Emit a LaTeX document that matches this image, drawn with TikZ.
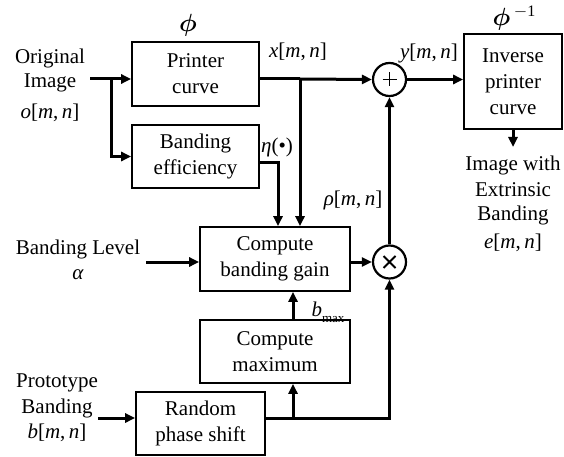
\documentclass[tikz,border=0pt]{standalone}
\usepackage{fontspec}
\setmainfont{Liberation Serif}
\usetikzlibrary{arrows.meta}
\newcommand{\MN}{[\textit{m},\,\textit{n}]}
\newcommand{\PhiSym}{{\fontsize{25}{25}\selectfont$\boldsymbol{\phi}$}}
\usepackage{amsmath}
\begin{document}
\begin{tikzpicture}[x=1pt,y=-1pt,
  font=\fontsize{21}{26}\selectfont,
  blockbox/.style={draw,line width=1.6pt,align=center,inner sep=0pt},
  opnode/.style={draw,circle,line width=2.2pt,minimum size=33pt,inner sep=0pt},
  wire/.style={line width=3pt},
  flow/.style={wire,-{Triangle[length=10pt,width=9pt]}},
  lbl/.style={align=center,inner sep=0pt}]
\useasboundingbox (0,0) rectangle (564,457);

% processing blocks
\node[blockbox,minimum width=127pt,minimum height=64pt] (pc) at (195.5,74) {Printer\\curve};
\node[blockbox,minimum width=127pt,minimum height=63pt] (be) at (195.5,156.5) {Banding\\efficiency};
\node[blockbox,minimum width=98pt,minimum height=95pt] (ipc) at (513,81.5) {Inverse\\printer\\curve};
\node[blockbox,minimum width=150pt,minimum height=64pt] (cbg) at (275,259) {Compute\\banding gain};
\node[blockbox,minimum width=150pt,minimum height=63pt] (cm) at (275,351.5) {Compute\\maximum};
\node[blockbox,minimum width=129pt,minimum height=63pt] (rps) at (200.5,423.5) {Random\\phase shift};

% adder and multiplier
\node[opnode] (plus) at (389.5,79.5) {};
\draw[line width=1.8pt] (plus.center) ++(-7,0) -- ++(14,0) (plus.center) ++(0,-7) -- ++(0,14);
\node[opnode] (times) at (389.5,262) {};
\draw[line width=1.8pt] (times.center) ++(-6,-6) -- ++(12,12) (times.center) ++(-6,6) -- ++(12,-12);

% text labels
\node[lbl] (phi) at (188,25) {\PhiSym};
\node[lbl] (phiinv) at (514,18) {\PhiSym\,\raisebox{1.0ex}{\fontsize{16}{16}\selectfont $-$1}};
\node[lbl] (orig) at (50,58) {Original};
\node[lbl] (img) at (50,83) {Image};
\node[lbl] (omn) at (50,113) {\textit{o}\MN};
\node[lbl] (xmn) at (298,52) {\textit{x}\MN};
\node[lbl] (ymn) at (429,53) {\textit{y}\MN};
\node[lbl] (eta) at (277,147) {\textit{η}(•)};
\node[lbl] (rho) at (353,200) {\textit{ρ}\MN};
\node[lbl] (out1) at (513,165) {Image with};
\node[lbl] (out2) at (513,190) {Extrinsic};
\node[lbl] (out3) at (513,215) {Banding};
\node[lbl] (out4) at (513,243) {\textit{e}\MN};
\node[lbl] (blev) at (78,249) {Banding Level};
\node[lbl] (alpha) at (78,275) {\textit{α}};
\node[lbl] (bmax) at (328,312) {\textit{b}\raisebox{-0.6ex}{\fontsize{13}{13}\selectfont max}};
\node[lbl] (proto1) at (57,383) {Prototype};
\node[lbl] (proto2) at (57,408) {Banding};
\node[lbl] (proto3) at (57,433) {\textit{b}\MN};

% junction and end points
\coordinate (oin) at (90,79);
\coordinate (obr) at (111,79);
\coordinate (xbr) at (300,79);
\coordinate (etab) at (278,163);
\coordinate (ain) at (146,262);
\coordinate (pin) at (98,418);
\coordinate (bx) at (293,418);
\coordinate (eend) at (513,147);

% signal paths
\draw[flow] (oin) -- (oin -| pc.west);
\draw[flow] (obr) |- (be.west);
\draw[wire] (pc.east |- oin) -- (xbr);
\draw[flow] (xbr) -- (plus.west);
\draw[flow] (xbr) -- (xbr |- cbg.north);
\draw[flow] (be.east |- etab) -| (etab |- cbg.north);
\draw[flow] (plus.east) -- (plus.east -| ipc.west);
\draw[flow] (ipc.south -| eend) -- (eend);
\draw[flow] (ain) -- (ain -| cbg.west);
\draw[flow] (cbg.east |- times) -- (times.west);
\draw[flow] (times.north) -- (plus.south);
\draw[flow] (pin) -- (pin -| rps.west);
\draw[wire] (rps.east |- bx) -- (bx);
\draw[flow] (bx) -| (times.south);
\draw[flow] (bx) -- (bx |- cm.south);
\draw[flow] (bx |- cm.north) -- (bx |- cbg.south);
\end{tikzpicture}
\end{document}
